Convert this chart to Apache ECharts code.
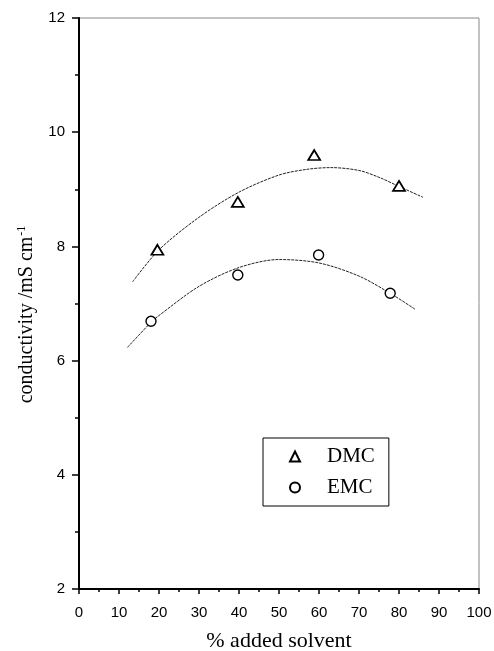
<!DOCTYPE html>
<html><head><meta charset="utf-8">
<script src="https://cdn.jsdelivr.net/npm/echarts@6/dist/echarts.min.js"></script>
<style>html,body{margin:0;padding:0;background:#fff}#c{width:494px;height:651px}</style>
</head><body><div id="c"></div>
<script>
// measured points
const dmcX = [19.6, 39.7, 58.8, 80.0];
const dmcY = [7.94, 8.78, 9.60, 9.06];
const emcX = [18.0, 39.7, 59.9, 77.8];
const emcY = [6.69, 7.50, 7.85, 7.18];
// fitted curves
const dmcFitX = [13.4, 20, 30, 40, 50, 57, 63, 70, 75, 80, 86];
const dmcFitY = [7.38, 7.94, 8.51, 8.95, 9.25, 9.35, 9.38, 9.33, 9.21, 9.05, 8.86];
const emcFitX = [12.1, 18, 20, 30, 40, 50, 60, 70, 78, 84];
const emcFitY = [6.23, 6.67, 6.79, 7.30, 7.63, 7.77, 7.71, 7.48, 7.17, 6.90];
const legendNames = ['DMC', 'EMC'];
const xTitle = '% added solvent';
const yTitleMain = 'conductivity /mS cm';
const yTitleSup = '-1';

const zip = (a, b) => a.map((v, i) => [v, b[i]]);
const serif = 'Liberation Serif';
const sans = 'Liberation Sans';
const chart = echarts.init(document.getElementById('c'), null, {renderer: 'canvas'});
chart.setOption({
  backgroundColor: '#fff',
  animation: false,
  grid: {left: 79, right: 15, top: 18, bottom: 62, show: true, borderColor: '#888', borderWidth: 1,
         containLabel: false, outerBoundsMode: 'none'},
  legend: {
    data: legendNames, orient: 'vertical', left: 263, top: 438,
    padding: [8, 14, 8, 26], itemGap: 10, itemWidth: 10, itemHeight: 10,
    borderColor: '#000', borderWidth: 1,
    textStyle: {fontFamily: serif, fontSize: 21, color: '#000', padding: [0, 0, 0, 22]}
  },
  xAxis: {
    type: 'value', min: 0, max: 100, interval: 10,
    name: xTitle, nameLocation: 'middle', nameGap: 41,
    nameTextStyle: {fontFamily: serif, fontSize: 22, color: '#000'},
    axisLine: {show: true, lineStyle: {color: '#000', width: 2}},
    axisTick: {show: true, inside: false, length: 5, lineStyle: {color: '#000', width: 1.5}},
    minorTick: {show: true, splitNumber: 2, length: 3, lineStyle: {color: '#000', width: 1.5}},
    axisLabel: {fontFamily: sans, fontSize: 15, color: '#000', margin: 16},
    splitLine: {show: false}
  },
  yAxis: {
    type: 'value', min: 2, max: 12, interval: 2,
    name: '{m|' + yTitleMain + '}{s|' + yTitleSup + '}', nameLocation: 'middle', nameGap: 38, nameRotate: 90,
    nameTextStyle: {
      padding: [0, 22, 0, 0],
      rich: {
        m: {fontFamily: serif, fontSize: 20, color: '#000', lineHeight: 23},
        s: {fontFamily: serif, fontSize: 12, color: '#000', verticalAlign: 'top', lineHeight: 23, padding: [0, 0, 10, 1]}
      }
    },
    axisLine: {show: true, lineStyle: {color: '#000', width: 2}},
    axisTick: {show: true, inside: false, length: 7, lineStyle: {color: '#000', width: 1.5}},
    minorTick: {show: true, splitNumber: 2, length: 4, lineStyle: {color: '#000', width: 1.5}},
    axisLabel: {fontFamily: sans, fontSize: 15, color: '#000', margin: 14},
    splitLine: {show: false}
  },
  series: [
    {name: 'DMC fit', type: 'line', data: zip(dmcFitX, dmcFitY), smooth: 0.3, showSymbol: false, symbol: 'none',
     lineStyle: {color: '#222', width: 1, type: [3, 1]}, z: 2},
    {name: 'EMC fit', type: 'line', data: zip(emcFitX, emcFitY), smooth: 0.3, showSymbol: false, symbol: 'none',
     lineStyle: {color: '#222', width: 1, type: [3, 1]}, z: 2},
    {name: 'DMC', type: 'scatter', data: zip(dmcX, dmcY), symbol: 'triangle', symbolSize: [12, 10],
     itemStyle: {color: '#fff', borderColor: '#000', borderWidth: 1.7, opacity: 1}, z: 3},
    {name: 'EMC', type: 'scatter', data: zip(emcX, emcY), symbol: 'circle', symbolSize: 10,
     itemStyle: {color: '#fff', borderColor: '#000', borderWidth: 1.4, opacity: 1}, z: 3}
  ]
});
</script></body></html>
